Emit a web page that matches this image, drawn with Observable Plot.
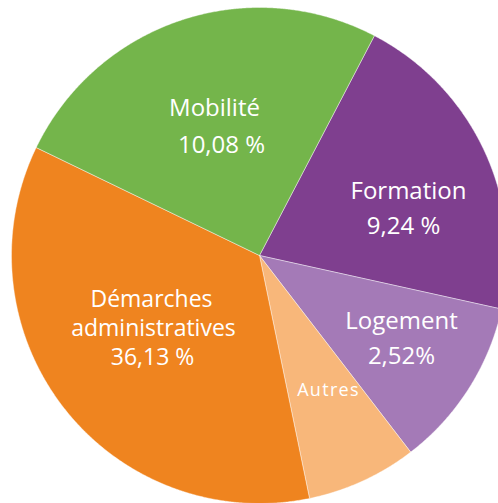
<!DOCTYPE html>
<html><head><meta charset="utf-8">
<script src="https://cdn.jsdelivr.net/npm/d3@7"></script>
<script src="https://cdn.jsdelivr.net/npm/@observablehq/plot@0.6"></script>
<style>body{margin:0;background:#fff}#chart svg{display:block}</style>
</head><body><div id="chart"></div>
<script>
// ---- data ----
const categories = ["Formation", "Logement", "Autres", "Démarches administratives", "Mobilité"];
// share of the drawn disc per slice (%)
const shares = [20.8, 11.1, 7.2, 35.4, 25.5];
// printed labels
const labelLines = [
  ["Formation", "9,24 %"],
  ["Logement", "2,52%"],
  ["Autres"],
  ["Démarches", "administratives", "36,13 %"],
  ["Mobilité", "10,08 %"]
];

// ---- style / layout ----
const colors = ["#7f3f8f", "#a47ab7", "#f8b77a", "#ef841f", "#74b54b"];
const W = 498, H = 503, cx = 259, cy = 255, R = 248, startDeg = 27.6;
const labelPos = [
  [[408, 198], [403, 233]],
  [[401, 328], [401, 363]],
  [[328, 395]],
  [[151, 306], [153, 335], [152, 364]],
  [[214, 115], [221, 152]]
];
const labelSize = [24, 24, 18, 23, 24];

const a0 = startDeg * Math.PI / 180;
const arcs = d3.pie().sort(null).value(d => d).startAngle(a0).endAngle(a0 + 2 * Math.PI)(shares);
const pts = [];
arcs.forEach((a, i) => {
  const cat = categories[i];
  pts.push({cat, x: cx, y: cy});
  const n = Math.max(2, Math.ceil((a.endAngle - a.startAngle) / 0.005));
  for (let k = 0; k <= n; k++) {
    const t = a.startAngle + (a.endAngle - a.startAngle) * k / n;
    pts.push({cat, x: cx + R * Math.sin(t), y: cy - R * Math.cos(t)});
  }
  pts.push({cat, x: cx, y: cy});
});

const labels = [];
labelLines.forEach((lines, i) => lines.forEach((t, j) => labels.push({
  text: t, x: labelPos[i][j][0], y: labelPos[i][j][1], size: labelSize[i], cat: categories[i]
})));

const chart = Plot.plot({
  width: W, height: H, margin: 0,
  x: {domain: [0, W], range: [0, W], axis: null},
  y: {domain: [0, H], range: [0, H], axis: null},
  color: {domain: categories, range: colors},
  style: {background: "white", fontFamily: "'Open Sans', sans-serif"},
  marks: [
    Plot.line(pts, {x: "x", y: "y", z: "cat", fill: "cat", stroke: "white", strokeWidth: 0.6, strokeOpacity: 0.7, clip: true}),
    Plot.text(labels, {x: "x", y: "y", text: "text", fill: "white", fontSize: d => d.size,
      textAnchor: "middle", lineAnchor: "bottom", fontFamily: "'Open Sans', sans-serif"})
  ]
});
d3.select(chart).selectAll("text").filter(function() { return this.textContent === "Autres"; })
  .attr("letter-spacing", "1.3px");
document.getElementById("chart").append(chart);
</script>
</body></html>
